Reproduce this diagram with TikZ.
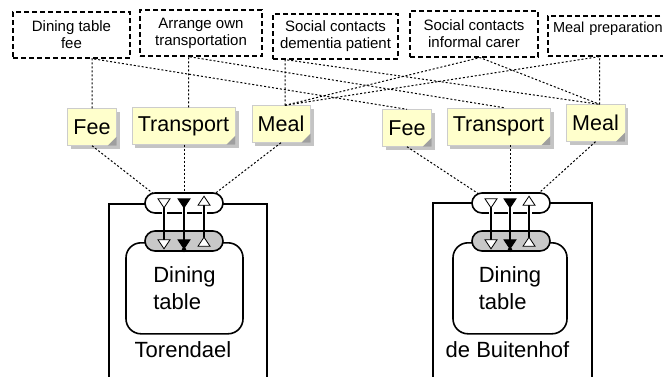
\documentclass[tikz,border=0pt]{standalone}
\usepackage{fontspec}
\setmainfont{Liberation Sans}
\usetikzlibrary{shapes.geometric,shadows}

\definecolor{notefill}{HTML}{FFFFCC}
\definecolor{noteshade}{HTML}{C4C4C4}
\definecolor{gategray}{HTML}{C8C8C8}

\begin{document}
\begin{tikzpicture}[x=1pt,y=-1pt,
        req/.style={draw,line width=1.2pt,dash pattern=on 5pt off 3pt,align=center,
            font=\fontsize{15}{17}\selectfont,inner sep=0pt},
        note/.style={draw=gray!40,fill=notefill,font=\fontsize{21.5}{24}\selectfont,
            inner xsep=6pt,inner ysep=0pt,minimum height=37pt,
            drop shadow={shadow xshift=3.5pt,shadow yshift=-3.5pt,fill=noteshade,opacity=1}},
        link/.style={line width=1pt,dash pattern=on 2pt off 2pt},
        comp/.style={draw,line width=1.6pt},
        part/.style={draw,line width=1.6pt,rounded corners=15pt,align=left,
            font=\fontsize{22}{27}\selectfont},
        port/.style={draw,line width=1.6pt,rounded corners=10pt,fill=white,
            minimum width=78pt,minimum height=20pt},
        flow/.style={line width=1.2pt,
            preaction={draw=white,line width=5pt,shorten <=7pt,shorten >=27pt}},
        tri/.style={isosceles triangle,isosceles triangle stretches,draw,line width=0.8pt,
            fill=white,inner sep=0pt,minimum width=12pt,minimum height=9pt},
        downtri/.style={tri,rotate=-90},
        uptri/.style={tri,rotate=90},
        big/.style={font=\fontsize{22}{27}\selectfont}]

    \useasboundingbox (0,0) rectangle (663,376);
    \clip (0,0) rectangle (663,376);

    % Requirements
    \node[req,minimum width=117pt,minimum height=46pt] (tablefee) at (71.5,35) {Dining table\\fee};
    \node[req,minimum width=122pt,minimum height=46pt] (owntrans) at (201,33) {Arrange own\\transportation};
    \node[req,minimum width=125pt,minimum height=45pt] (contactpat) at (335.5,36.5) {Social contacts\\dementia patient};
    \node[req,minimum width=128pt,minimum height=46pt] (contactcarer) at (474,34) {Social contacts\\informal carer};
    \node[req,minimum width=124pt,minimum height=40pt,text width=114pt,align=left,
        font=\fontsize{14.5}{17}\selectfont] (mealprep) at (610,36) {Meal preparation\\\mbox{}};

    % Services
    \node[note] (fee1) at (92,127) {Fee};
    \node[note] (transport1) at (183.5,126) {Transport};
    \node[note] (meal1) at (281,124) {Meal};
    \node[note] (fee2) at (407,128) {Fee};
    \node[note] (transport2) at (498.5,126.5) {Transport};
    \node[note] (meal2) at (595.5,123) {Meal};

    \foreach \n in {fee1,transport1,meal1,fee2,transport2,meal2}
        \fill[gray!75] (\n.south east) -- ([xshift=-9pt]\n.south east) -- ([yshift=9pt]\n.south east) -- cycle;

    % Requirement links
    \draw[link] (fee1.north) -- (fee1.north |- tablefee.south) -- (fee2.north);
    \draw[link] ([xshift=5pt]transport1.north) -- ([xshift=5pt]transport1.north |- owntrans.south) -- ([xshift=6pt]transport2.north);
    \draw[link] ([xshift=4pt]meal1.north) -- ([xshift=4pt]meal1.north |- contactpat.south) -- ([xshift=4pt]meal2.north);
    \draw[link] ([xshift=4pt]meal1.north) -- ([xshift=6pt]contactcarer.south) -- ([xshift=4pt]meal2.north);
    \draw[link] ([xshift=4pt]meal1.north) -- ([xshift=4pt]meal2.north |- mealprep.south) -- ([xshift=4pt]meal2.north);

    % Components
    \node[comp,minimum width=158pt,minimum height=190pt,anchor=north] (torendael) at (188,203) {};
    \node[comp,minimum width=159pt,minimum height=190pt,anchor=north] (buitenhof) at (512.5,202) {};
    \node[part,minimum width=117pt,minimum height=91pt,anchor=north] (table1) at (184.5,242) {Dining\\table};
    \node[part,minimum width=114pt,minimum height=91pt,anchor=north] (table2) at (510,242) {Dining\\table};
    \node[big] (torendaellabel) at (183,350) {Torendael};
    \node[big] (buitenhoflabel) at (507.5,350) {de Buitenhof};

    % Port positions
    \coordinate (in1) at (164,202);  \coordinate (in1g) at (164,243);
    \coordinate (mid1) at (184,202); \coordinate (mid1g) at (184,243);
    \coordinate (out1) at (204,202); \coordinate (out1g) at (204,243);
    \coordinate (in2) at (491,202);  \coordinate (in2g) at (491,243);
    \coordinate (mid2) at (510,202); \coordinate (mid2g) at (510,243);
    \coordinate (out2) at (529,202); \coordinate (out2g) at (529,243);

    % Service links
    \draw[link] (fee1.south) -- (in1);
    \draw[link] (transport1.south -| mid1) -- (mid1);
    \draw[link] (meal1.south) -- (out1);
    \draw[link] (fee2.south) -- (in2);
    \draw[link] (transport2.south -| mid2) -- (mid2);
    \draw[link] (meal2.south) -- (out2);

    % Ports
    \node[port] (port1) at (184,203) {};
    \node[port,fill=gategray] (gate1) at (184,241) {};
    \node[port] (port2) at (511,203) {};
    \node[port,fill=gategray] (gate2) at (511,241) {};

    \draw[flow] (in1) -- (in1g);
    \draw[flow,line width=1.8pt] (mid1) -- (mid1g);
    \draw[flow] (out1) -- (out1g);
    \draw[flow] (in2) -- (in2g);
    \draw[flow,line width=1.8pt] (mid2) -- (mid2g);
    \draw[flow] (out2) -- (out2g);

    \node[downtri] (in1t) at (in1) {};
    \node[downtri] (in1b) at (in1g) {};
    \node[downtri,fill=black] (mid1t) at (mid1) {};
    \node[downtri,fill=black] (mid1b) at (mid1g) {};
    \node[uptri] (out1t) at (out1) {};
    \node[uptri] (out1b) at (out1g) {};
    \node[circle,fill,inner sep=1.6pt] (mid1dot) at (mid1b.apex) {};

    \node[downtri] (in2t) at (in2) {};
    \node[downtri] (in2b) at (in2g) {};
    \node[downtri,fill=black] (mid2t) at (mid2) {};
    \node[downtri,fill=black] (mid2b) at (mid2g) {};
    \node[uptri] (out2t) at (out2) {};
    \node[uptri] (out2b) at (out2g) {};
    \node[circle,fill,inner sep=1.6pt] (mid2dot) at (mid2b.apex) {};
\end{tikzpicture}
\end{document}
